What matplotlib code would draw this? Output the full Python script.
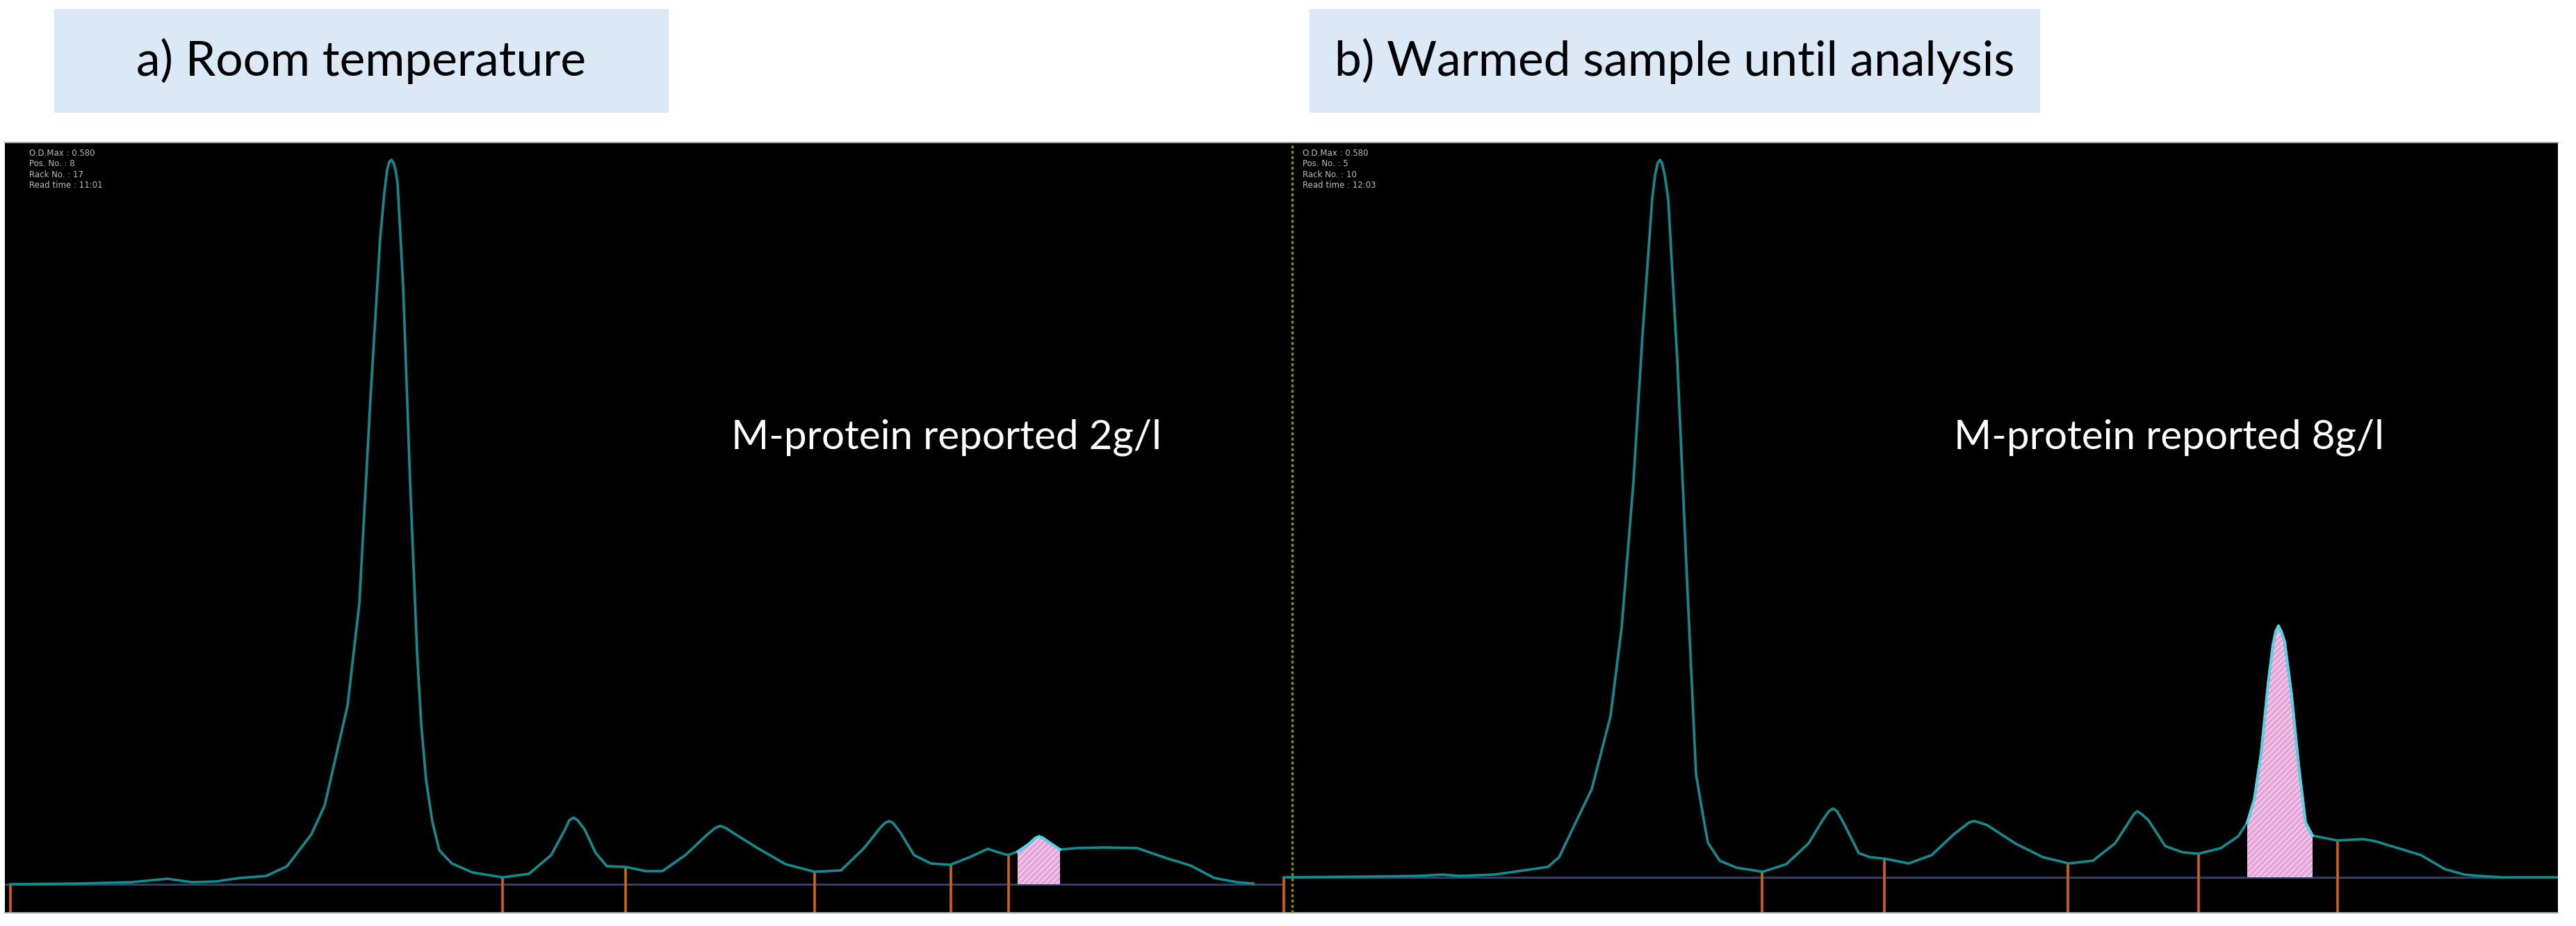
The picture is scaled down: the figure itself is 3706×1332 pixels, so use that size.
import numpy as np
import matplotlib.pyplot as plt
from matplotlib.patches import Rectangle

plt.rcParams['font.family'] = ['Lato', 'DejaVu Sans']
plt.rcParams['hatch.linewidth'] = 1.2

# densitometry traces
# position = scan point from the left edge of each trace, od = height above baseline
pos_a = [8, 102, 182, 234, 269, 303, 337, 376, 406, 441,
         460, 493, 510, 526, 540, 546, 550, 553, 556, 559,
         562, 565, 573, 583,
         593, 599, 606, 615, 625, 643, 673, 716, 754, 786,
         806, 812, 818, 824, 834, 850, 866, 893, 922, 946, 979, 1011,
         1022, 1029, 1037, 1051, 1083, 1123, 1165, 1203, 1236, 1260, 1266, 1272, 1278, 1288,
         1308, 1332, 1360, 1388, 1414, 1429, 1443, 1457, 1473, 1483, 1488, 1493,
         1503, 1518, 1541, 1581, 1629, 1673, 1706, 1740, 1773, 1796]
od_a = [0, 1, 3, 8, 3, 4, 9, 12, 26, 72,
        113, 257, 404, 699, 930, 995, 1028, 1039, 1042, 1038,
        1028, 1008, 860, 579,
        334, 230, 150, 90, 49, 30, 17, 10, 15, 42,
        79, 92, 96, 92, 79, 45, 26, 25, 19, 19, 42, 72,
        81, 84, 81, 72, 52, 29, 18, 20, 52, 82, 88, 91, 88, 75,
        42, 30, 28, 39, 51, 46, 42, 47, 58, 67, 69, 67,
        60, 50, 52, 53, 52, 37, 27, 9, 3, 1]

pos_b = [2, 115, 195, 230, 255, 305, 382, 398, 445, 472,
         488, 505, 518, 532, 536, 540, 543, 546, 550, 555, 568, 582, 595, 604,
         612, 629, 653, 691, 725, 757, 777, 786, 792, 798, 809, 829,
         845, 866, 901, 934, 966, 988, 995, 1002, 1014, 1054, 1094, 1131,
         1166, 1198, 1225, 1230, 1236, 1246, 1270, 1295, 1318, 1350, 1375, 1388,
         1398, 1408, 1418, 1425, 1429, 1433, 1437, 1442, 1452, 1462, 1472, 1482,
         1518, 1555, 1572, 1605, 1638, 1672, 1700, 1722, 1755, 1833]
od_b = [0, 1, 2, 4, 2, 4, 15, 29, 127, 232,
        359, 569, 780, 976, 1010, 1028, 1032, 1028, 1010, 976, 745, 429, 148, 95,
        50, 24, 14, 8, 19, 49, 82, 95, 99, 95, 75, 35,
        29, 27, 20, 32, 62, 79, 81, 79, 75, 49, 29, 20,
        24, 49, 91, 95, 91, 82, 45, 36, 34, 42, 59, 79,
        112, 179, 279, 335, 354, 362, 354, 339, 262, 162, 79, 60,
        53, 55, 52, 42, 32, 12, 4, 2, 0, 0]

# fraction limits (orange marks) and the M-protein band (pink)
marks_a = [8, 716, 893, 1165, 1361, 1444]
marks_b = [2, 690, 866, 1130, 1318, 1518]
band_a = (1457, 1518)
band_b = (1388, 1482)

info_a = ['O.D.Max : 0.580', 'Pos. No. : 8', 'Rack No. : 17', 'Read time : 11:01']
info_b = ['O.D.Max : 0.580', 'Pos. No. : 5', 'Rack No. : 10', 'Read time : 12:03']
titles = ['a) Room temperature', 'b) Warmed sample until analysis']
notes = ['M-protein reported 2g/l', 'M-protein reported 8g/l']

###colours###
trace_col = '#128c8c'
edge_col = '#4fd8e8'
pink = '#e6a4d8'
hatch_col = '#f7d6f0'
base_col = '#2e3f72'
mark_col = '#d9600c'
dot_col = '#7d8c00'
box_col = '#dbe9f6'

W, H = 3706, 1332
fig = plt.figure(figsize=(W / 100, H / 100), dpi=100)
fig.patch.set_facecolor('white')


def px_axes(x0, x1, y0, y1):
    return fig.add_axes([x0 / W, 1 - y1 / H, (x1 - x0) / W, (y1 - y0) / H])


def draw_trace(ax, pos, od, marks, band, info, note, width, below, above, note_x, info_x):
    pos = np.array(pos)
    od = np.array(od)
    ax.set_facecolor('black')
    ax.set_xlim(0, width)
    ax.set_ylim(-below, above)
    ax.set_xticks([])
    ax.set_yticks([])
    for s in ['left', 'right']:
        ax.spines[s].set_visible(False)
    for s in ['top', 'bottom']:
        ax.spines[s].set_color('#a8a8a8')
        ax.spines[s].set_linewidth(1.5)

    ax.axhline(0, color=base_col, lw=2.2, zorder=1)
    inband = (pos >= band[0]) & (pos <= band[1])
    ax.fill_between(pos[inband], 0, od[inband], facecolor=pink, edgecolor=hatch_col,
                    hatch='////', lw=0, zorder=2)
    ax.plot(pos, od, color=trace_col, lw=2.6, zorder=3, solid_joinstyle='round')
    ax.plot(pos[inband], od[inband], color=edge_col, lw=2.6, zorder=4, solid_joinstyle='round')

    tops = np.interp(marks, pos, od)
    ax.vlines(marks, -below, tops, color=mark_col, lw=2.6, zorder=2)

    ax.text(info_x, 0.992, '\n'.join(info), transform=ax.transAxes, ha='left', va='top',
            fontsize=8.5, color='#bcbcbc', linespacing=1.25, family='DejaVu Sans')
    ax.text(note_x, 0.617, note, transform=ax.transAxes, ha='center', va='center',
            fontsize=42, color='white')


ax1 = px_axes(7, 1845, 205, 1313)
draw_trace(ax1, pos_a, od_a, marks_a, band_a, info_a, notes[0], 1838, 41, 1067, 0.737, 0.019)

ax2 = px_axes(1845, 3680, 205, 1313)
draw_trace(ax2, pos_b, od_b, marks_b, band_b, info_b, notes[1], 1835, 51, 1057, 0.695, 0.016)
ax2.axvline(14, color=dot_col, ls=(0, (1.2, 1.0)), lw=2.5, zorder=5)

# title boxes
for (x0, x1), title in zip([(78, 962), (1884, 2935)], titles):
    fig.add_artist(Rectangle((x0 / W, 1 - 162 / H), (x1 - x0) / W, 149 / H,
                             transform=fig.transFigure, facecolor=box_col, edgecolor='none'))
    fig.text((x0 + x1) / 2 / W, 1 - 88 / H, title, ha='center', va='center',
             fontsize=50, color='black')

plt.savefig('out.png', dpi=100, facecolor=fig.get_facecolor())
